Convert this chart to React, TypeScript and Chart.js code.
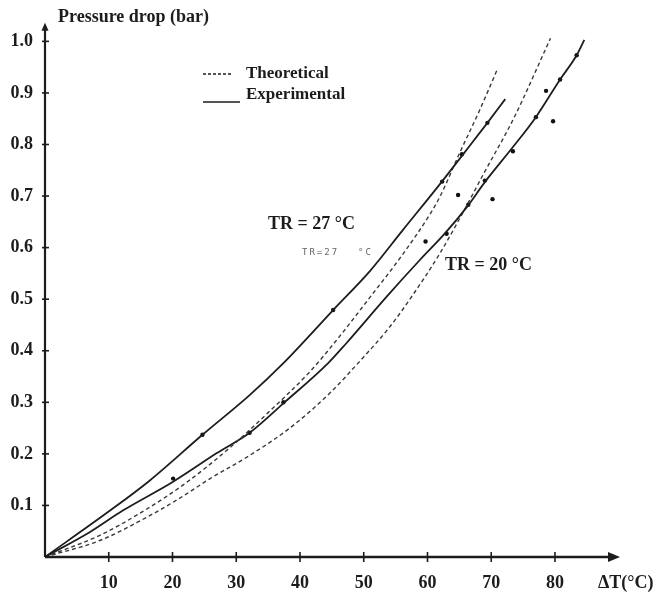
import React, { useEffect, useRef } from "react";
import { Chart, registerables } from "chart.js";

Chart.register(...registerables);

// Axis ranges and ticks
const X_MIN = 0;
const X_MAX = 90.2;
const Y_MIN = 0;
const Y_MAX = 1.036;
const X_TICKS = [10, 20, 30, 40, 50, 60, 70, 80];
const Y_TICKS = [0.1, 0.2, 0.3, 0.4, 0.5, 0.6, 0.7, 0.8, 0.9, 1.0];

// TR = 27 °C, experimental (solid)
const TR27_EXP_X = [0, 10.2, 16.4, 24.7, 32.1, 37.4, 45.2, 51, 56, 62.2, 65.4, 69.4, 72.2];
const TR27_EXP_Y = [0, 0.09, 0.148, 0.237, 0.314, 0.376, 0.479, 0.555, 0.632, 0.727, 0.778, 0.842, 0.888];

// TR = 27 °C, theoretical (dashed)
const TR27_THEO_X = [0, 8.6, 14.9, 21.7, 29, 35, 41.6, 45.7, 51, 56, 60.4, 62, 65.1, 68.2, 71];
const TR27_THEO_Y = [0, 0.042, 0.085, 0.14, 0.212, 0.28, 0.36, 0.42, 0.504, 0.585, 0.665, 0.7, 0.785, 0.867, 0.947];

// TR = 20 °C, experimental (solid)
const TR20_EXP_X = [0, 7, 12.2, 20.1, 26.9, 32.1, 37.4, 44.5, 47.3, 53.6, 58.8, 62.7, 66.2, 69, 73.4, 77, 80.8, 83.4, 84.6];
const TR20_EXP_Y = [0, 0.048, 0.09, 0.146, 0.201, 0.241, 0.298, 0.377, 0.415, 0.505, 0.576, 0.627, 0.679, 0.727, 0.795, 0.853, 0.926, 0.973, 1.003];

// TR = 20 °C, theoretical (dashed)
const TR20_THEO_X = [0, 8.6, 14.9, 21, 25.9, 32.1, 38.4, 44.7, 49.4, 54, 57.8, 62, 66, 68.8, 73.5, 79.3];
const TR20_THEO_Y = [0, 0.032, 0.07, 0.113, 0.152, 0.197, 0.25, 0.318, 0.38, 0.445, 0.51, 0.59, 0.678, 0.743, 0.85, 1.006];

// Measured points
const PTS_TR27_X = [24.7, 45.2, 62.3, 65.4, 69.4];
const PTS_TR27_Y = [0.237, 0.479, 0.728, 0.781, 0.842];
const PTS_TR20_X = [20.1, 32.1, 37.4, 63, 66.4, 69, 73.4, 77, 80.8, 83.4];
const PTS_TR20_Y = [0.152, 0.241, 0.3, 0.627, 0.683, 0.73, 0.787, 0.853, 0.926, 0.973];
const PTS_SCATTER_X = [59.7, 64.8, 70.2, 78.6, 79.7];
const PTS_SCATTER_Y = [0.612, 0.702, 0.694, 0.904, 0.845];

// Texts
const Y_TITLE = "Pressure drop (bar)";
const X_TITLE = "ΔT(°C)";
const LEGEND_THEO = "Theoretical";
const LEGEND_EXP = "Experimental";
const LABEL_TR27 = "TR = 27 °C";
const LABEL_TR27_SMALL_A = "TR=27";
const LABEL_TR27_SMALL_B = "°C";
const LABEL_TR20 = "TR = 20 °C";

const pts = (xs: number[], ys: number[]) => xs.map((x, i) => ({ x, y: ys[i] }));

const SERIF = "'Liberation Serif', 'Times New Roman', serif";
const INK = "#1c1c1c";

const decor = {
  id: "decor",
  afterDraw(chart: any) {
    const { ctx } = chart;
    const xs = chart.scales.x;
    const ys = chart.scales.y;
    const x0 = xs.getPixelForValue(X_MIN);
    const y0 = ys.getPixelForValue(Y_MIN);
    const xEnd = xs.getPixelForValue(X_MAX);
    const yEnd = ys.getPixelForValue(Y_MAX);
    ctx.save();
    ctx.strokeStyle = INK;
    ctx.fillStyle = INK;
    ctx.setLineDash([]);
    // x axis
    ctx.lineWidth = 2.6;
    ctx.beginPath();
    ctx.moveTo(x0, y0);
    ctx.lineTo(xEnd - 8, y0);
    ctx.stroke();
    ctx.beginPath();
    ctx.moveTo(xEnd, y0);
    ctx.lineTo(xEnd - 12, y0 - 5);
    ctx.lineTo(xEnd - 12, y0 + 5);
    ctx.closePath();
    ctx.fill();
    // y axis
    ctx.lineWidth = 2.2;
    ctx.beginPath();
    ctx.moveTo(x0, y0);
    ctx.lineTo(x0, yEnd + 5);
    ctx.stroke();
    ctx.beginPath();
    ctx.moveTo(x0, yEnd);
    ctx.lineTo(x0 - 3.5, yEnd + 8);
    ctx.lineTo(x0 + 3.5, yEnd + 8);
    ctx.closePath();
    ctx.fill();
    // tick marks
    ctx.lineWidth = 1.6;
    X_TICKS.forEach((v) => {
      const p = xs.getPixelForValue(v);
      ctx.beginPath();
      ctx.moveTo(p, y0 - 5);
      ctx.lineTo(p, y0 + 5);
      ctx.stroke();
    });
    Y_TICKS.forEach((v) => {
      const p = ys.getPixelForValue(v);
      ctx.beginPath();
      ctx.moveTo(x0 - 3, p);
      ctx.lineTo(x0 + 4, p);
      ctx.stroke();
    });
    // texts
    ctx.textBaseline = "middle";
    ctx.textAlign = "left";
    ctx.font = `bold 18px ${SERIF}`;
    ctx.fillText(Y_TITLE, 58, 17);
    ctx.fillText(X_TITLE, 598, 583);
    ctx.font = `bold 17px ${SERIF}`;
    ctx.fillText(LEGEND_THEO, 246, 74);
    ctx.fillText(LEGEND_EXP, 246, 95);
    ctx.font = `bold 18px ${SERIF}`;
    ctx.fillText(LABEL_TR27, 268, 224);
    ctx.fillText(LABEL_TR20, 445, 265);
    ctx.fillStyle = "#666";
    ctx.font = `9px 'DejaVu Sans Mono', monospace`;
    (ctx as any).letterSpacing = "2px";
    ctx.fillText(LABEL_TR27_SMALL_A, 302, 253);
    ctx.fillText(LABEL_TR27_SMALL_B, 358, 253);
    (ctx as any).letterSpacing = "0px";
    // legend samples
    ctx.strokeStyle = INK;
    ctx.lineWidth = 1.6;
    ctx.setLineDash([3, 2]);
    ctx.beginPath();
    ctx.moveTo(203, 74);
    ctx.lineTo(232, 74);
    ctx.stroke();
    ctx.setLineDash([]);
    ctx.beginPath();
    ctx.moveTo(203, 102);
    ctx.lineTo(240, 102);
    ctx.stroke();
    ctx.restore();
  },
};

export default function App() {
  const ref = useRef<HTMLCanvasElement | null>(null);
  useEffect(() => {
    if (!ref.current) return;
    const solid = { borderColor: "#1e1e1e", borderWidth: 1.8, pointRadius: 0, showLine: true, cubicInterpolationMode: "monotone" as const, fill: false };
    const dashed = { borderColor: "#3a3a3a", borderWidth: 1.4, borderDash: [4, 3], pointRadius: 0, showLine: true, cubicInterpolationMode: "monotone" as const, fill: false };
    const dots = { pointRadius: 2.2, pointBackgroundColor: "#111", pointBorderWidth: 0, showLine: false };
    const chart = new Chart(ref.current, {
      type: "scatter",
      data: {
        datasets: [
          { label: "TR27 exp", data: pts(TR27_EXP_X, TR27_EXP_Y), ...solid },
          { label: "TR27 theo", data: pts(TR27_THEO_X, TR27_THEO_Y), ...dashed },
          { label: "TR20 exp", data: pts(TR20_EXP_X, TR20_EXP_Y), ...solid },
          { label: "TR20 theo", data: pts(TR20_THEO_X, TR20_THEO_Y), ...dashed },
          { label: "pts27", data: pts(PTS_TR27_X, PTS_TR27_Y), ...dots },
          { label: "pts20", data: pts(PTS_TR20_X, PTS_TR20_Y), ...dots },
          { label: "pts", data: pts(PTS_SCATTER_X, PTS_SCATTER_Y), ...dots },
        ] as any,
      },
      options: {
        animation: false,
        responsive: false,
        maintainAspectRatio: false,
        layout: { padding: { top: 15, right: 36, left: 0, bottom: 0 } },
        plugins: { legend: { display: false }, tooltip: { enabled: false } },
        scales: {
          x: {
            type: "linear",
            min: X_MIN,
            max: X_MAX,
            grid: { display: false, drawTicks: false },
            border: { display: false },
            afterBuildTicks: (axis: any) => {
              axis.ticks = X_TICKS.map((v) => ({ value: v }));
            },
            afterFit: (axis: any) => {
              axis.height = 39;
            },
            ticks: {
              padding: 16,
              color: INK,
              font: { family: SERIF, size: 18, weight: "bold" },
              callback: (v: any) => String(v),
              maxRotation: 0,
              autoSkip: false,
            },
          },
          y: {
            type: "linear",
            min: Y_MIN,
            max: Y_MAX,
            grid: { display: false, drawTicks: false },
            border: { display: false },
            afterBuildTicks: (axis: any) => {
              axis.ticks = Y_TICKS.map((v) => ({ value: v }));
            },
            afterFit: (axis: any) => {
              axis.width = 45;
            },
            ticks: {
              padding: 12,
              color: INK,
              font: { family: SERIF, size: 18, weight: "bold" },
              callback: (v: any) => Number(v).toFixed(1),
              autoSkip: false,
            },
          },
        },
      } as any,
      plugins: [decor],
    });
    return () => chart.destroy();
  }, []);
  return (
    <div style={{ position: "fixed", left: 0, top: 0, width: 656, height: 596, background: "#fff" }}>
      <canvas ref={ref} width={656} height={596} style={{ width: 656, height: 596, display: "block" }} />
    </div>
  );
}
